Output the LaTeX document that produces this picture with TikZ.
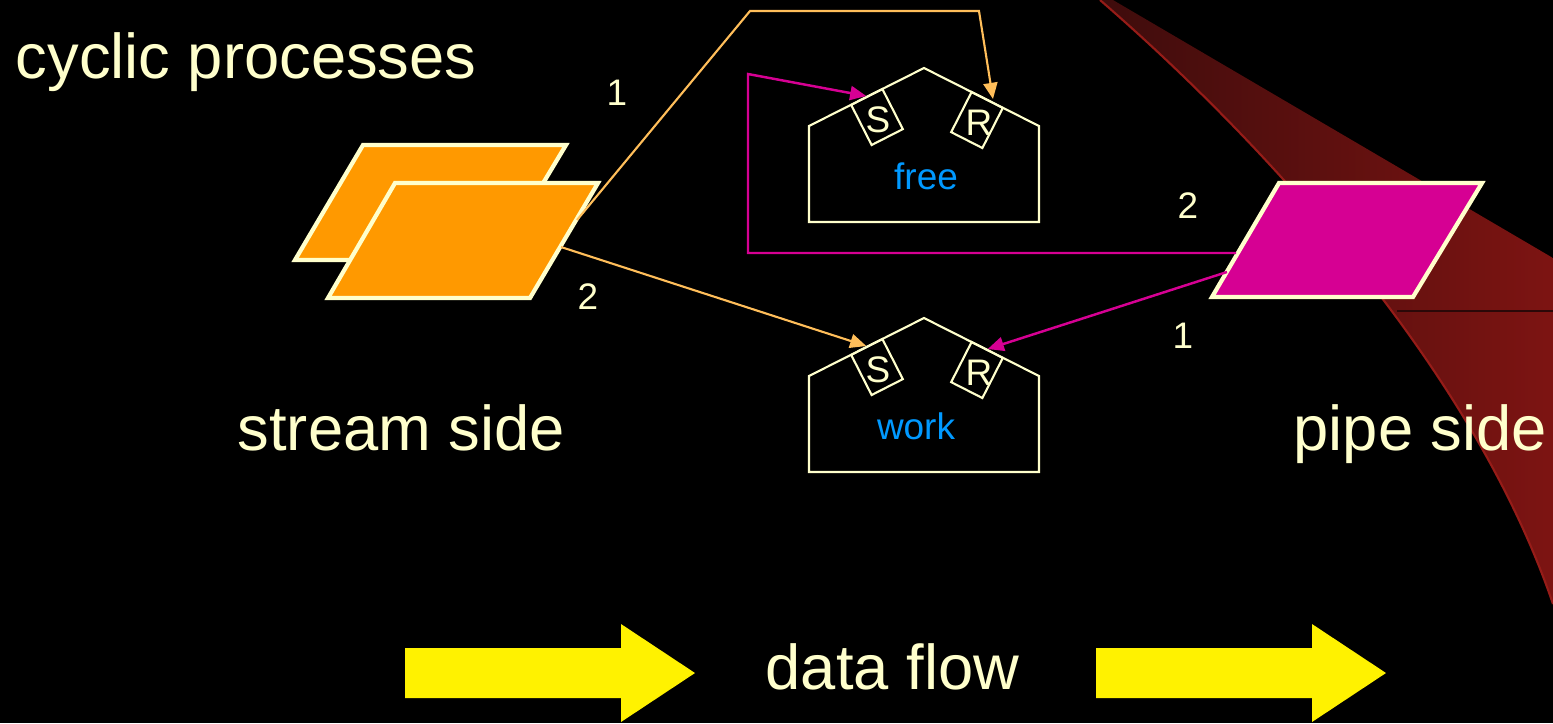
\documentclass[tikz,border=0pt]{standalone}
\usepackage{fontspec}
\setmainfont{Liberation Sans}
\usetikzlibrary{positioning,arrows.meta}
\definecolor{Cream}{RGB}{255,255,204}
\definecolor{CardOrange}{RGB}{255,153,0}
\definecolor{PipePink}{RGB}{214,0,147}
\definecolor{FeedOrange}{RGB}{255,190,90}
\definecolor{StateBlue}{RGB}{0,153,255}
\definecolor{SwooshDark}{RGB}{62,12,12}
\definecolor{SwooshRed}{RGB}{125,20,18}
\definecolor{SwooshEdge}{RGB}{150,28,24}
\tikzset{
  house/.style={draw=Cream,line width=0.6pt},
  card/.style={draw=Cream,fill=CardOrange,line width=1.2pt},
  pipecard/.style={draw=Cream,fill=PipePink,line width=1.2pt},
  port/.style={draw=Cream,line width=0.6pt,minimum width=0.35cm,minimum height=0.45cm,inner sep=0pt},
  portlab/.style={text=Cream,font=\fontsize{10.5}{12}\selectfont,inner sep=0pt},
  feed/.style={draw=FeedOrange,line width=0.6pt,-{Triangle[length=4.6pt,width=4pt]}},
  back/.style={draw=PipePink,line width=0.7pt,-{Triangle[length=4.6pt,width=4pt]}},
  big/.style={text=Cream,font=\fontsize{18}{20}\selectfont,inner sep=0pt},
  num/.style={text=Cream,font=\fontsize{10.5}{12}\selectfont,inner sep=0pt},
  state/.style={text=StateBlue,font=\fontsize{10.5}{12}\selectfont,inner sep=0pt},
}

\begin{document}
\begin{tikzpicture}[x=0.01cm,y=-0.01cm]
\fill[black] (0,0) rectangle (1553,723);
\useasboundingbox (0,0) rectangle (1553,723);
% red swoosh on the right
\shade[left color=SwooshDark,right color=SwooshRed]
  (1113,0) -- (1553,258) -- (1553,604)
  .. controls (1470,360) and (1250,130) .. (1100,0) -- cycle;
\draw[SwooshEdge,line width=0.6pt] (1100,0) .. controls (1250,130) and (1470,360) .. (1553,604);
\draw[SwooshDark!70!black,line width=0.4pt] (1397,311) -- (1553,311);

% stream side cards
\draw[card] (363,145) -- (566,145) -- (497,260) -- (295,260) -- cycle;
\draw[card] (395,183) -- (598,183) -- (530,298) -- (328,298) -- cycle;
\coordinate (s1) at (577,220);
\coordinate (s2) at (561,247);

% pipe side card
\draw[pipecard] (1279,183) -- (1482,183) -- (1413,297) -- (1212,297) -- cycle;
\coordinate (p2) at (1236,253);
\coordinate (p1) at (1227,272);

% free and work states
\draw[house] (809,222) -- (809,126) -- (924,68) -- (1039,126) -- (1039,222) -- cycle;
\draw[house] (809,472) -- (809,376) -- (924,318) -- (1039,376) -- (1039,472) -- cycle;
\node[port,rotate=27] (fS) at (877,117) {};
\node[port,rotate=-27] (fR) at (977,120) {};
\node[port,rotate=27] (wS) at (877,367) {};
\node[port,rotate=-27] (wR) at (977,370) {};
\node[portlab] (fSl) at (878,120) {S};
\node[portlab] (fRl) at (979,123) {R};
\node[portlab] (wSl) at (878,370) {S};
\node[portlab] (wRl) at (979,373) {R};
\node[state,anchor=base] (free) at (926,189) {free};
\node[state,anchor=base] (work) at (916,439) {work};

% connectors
\coordinate (k1) at (750,11);
\coordinate (k2) at (979,11);
\coordinate (k3) at (748,253);
\coordinate (k4) at (748,74);
\draw[feed] (s1) -- (k1) -- (k2) -- ([xshift=1.5pt]fR.north);
\draw[feed] (s2) -- (wS.north);
\draw[back] (p2) -- (k3) -- (k4) -- (fS.north);
\draw[back] (p1) -- (wR.north);
\node[num] (n1) at (617,93) {1};
\node[num] (n2) at (588,297) {2};
\node[num] (m2) at (1188,206) {2};
\node[num] (m1) at (1183,336) {1};

% titles
\node[big,anchor=base west] (title) at (15,78) {cyclic processes};
\node[big,anchor=base west] (stream) at (237,450) {stream side};
\node[big,anchor=base west] (pipe) at (1293,450) {pipe side};
\node[big,anchor=base west] (flow) at (765,689) {data flow};

% data flow arrows
\fill[yellow] (405,648) -- (621,648) -- (621,624) -- (695,673) -- (621,722) -- (621,698) -- (405,698) -- cycle;
\fill[yellow] (1096,648) -- (1312,648) -- (1312,624) -- (1386,673) -- (1312,722) -- (1312,698) -- (1096,698) -- cycle;
\end{tikzpicture}
\end{document}
